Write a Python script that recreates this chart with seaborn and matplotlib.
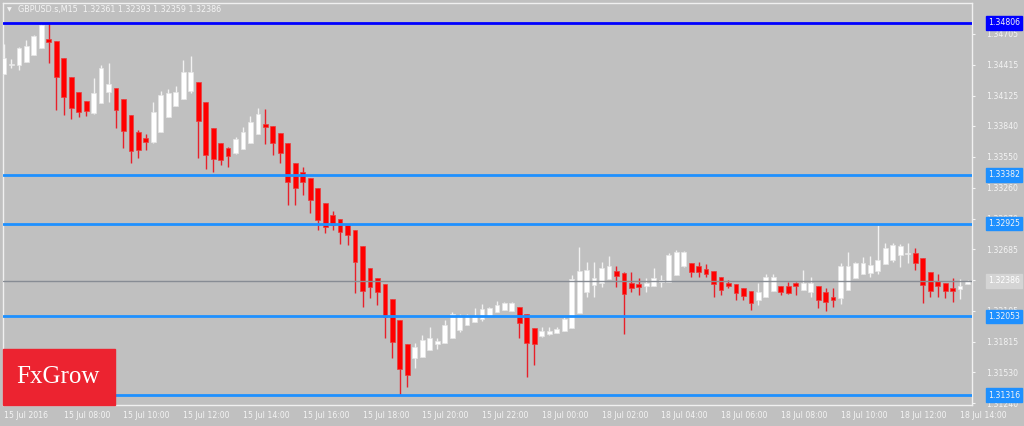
import matplotlib
matplotlib.use("Agg")
import matplotlib.pyplot as plt
import pandas as pd
import seaborn as sns

# GBPUSD M15 candles, 15 Jul 06:00 -> 18 Jul 14:15
symbol = "GBPUSD.s,M15"
header_ohlc = ["1.32361", "1.32393", "1.32359", "1.32386"]

opens = [1.34328, 1.34412, 1.34412, 1.34440, 1.34506, 1.34571, 1.34656, 1.34637, 1.34478, 1.34300,
         1.34159, 1.34075, 1.33962, 1.34056, 1.34159, 1.34196, 1.34093, 1.33943, 1.33784, 1.33727,
         1.33690, 1.33784, 1.33924, 1.34027, 1.34093, 1.34168, 1.34253, 1.34065, 1.33821, 1.33681,
         1.33634, 1.33587, 1.33624, 1.33681, 1.33765, 1.33859, 1.33840, 1.33774, 1.33681, 1.33493,
         1.33408, 1.33352, 1.33258, 1.33118, 1.33005, 1.32967, 1.32911, 1.32864, 1.32714, 1.32508,
         1.32414, 1.32358, 1.32217, 1.32020, 1.31795, 1.31664, 1.31673, 1.31739, 1.31795, 1.31805,
         1.31851, 1.31926, 1.31973, 1.32001, 1.32030, 1.32058, 1.32095, 1.32114, 1.32105, 1.32142,
         1.32077, 1.31945, 1.31870, 1.31889, 1.31898, 1.31917, 1.31945, 1.32086, 1.32283, 1.32348,
         1.32367, 1.32405, 1.32480, 1.32461, 1.32367, 1.32358, 1.32339, 1.32339, 1.32377, 1.32377,
         1.32442, 1.32527, 1.32555, 1.32527, 1.32499, 1.32480, 1.32424, 1.32367, 1.32358, 1.32320,
         1.32292, 1.32208, 1.32236, 1.32292, 1.32339, 1.32339, 1.32367, 1.32302, 1.32283, 1.32339,
         1.32283, 1.32236, 1.32227, 1.32302, 1.32414, 1.32452, 1.32461, 1.32480, 1.32545, 1.32583,
         1.32630, 1.32639, 1.32648, 1.32601, 1.32470, 1.32386, 1.32367, 1.32320, 1.32311, 1.32361]
highs = [1.34609, 1.34468, 1.34581, 1.34646, 1.34693, 1.34806, 1.34806, 1.34637, 1.34478, 1.34300,
         1.34159, 1.34075, 1.34290, 1.34412, 1.34431, 1.34196, 1.34093, 1.33943, 1.33802, 1.33765,
         1.34065, 1.34168, 1.34187, 1.34215, 1.34459, 1.34496, 1.34253, 1.34065, 1.33821, 1.33681,
         1.33643, 1.33737, 1.33830, 1.33934, 1.34009, 1.33999, 1.33840, 1.33774, 1.33681, 1.33493,
         1.33455, 1.33352, 1.33258, 1.33118, 1.33042, 1.32967, 1.32911, 1.32864, 1.32714, 1.32508,
         1.32414, 1.32358, 1.32217, 1.32020, 1.31795, 1.31805, 1.31880, 1.31954, 1.31851, 1.32020,
         1.32095, 1.32077, 1.32077, 1.32132, 1.32170, 1.32142, 1.32198, 1.32189, 1.32189, 1.32142,
         1.32077, 1.31945, 1.31954, 1.31954, 1.31954, 1.32048, 1.32442, 1.32705, 1.32564, 1.32564,
         1.32564, 1.32620, 1.32527, 1.32470, 1.32470, 1.32414, 1.32414, 1.32508, 1.32442, 1.32648,
         1.32676, 1.32667, 1.32555, 1.32564, 1.32545, 1.32480, 1.32424, 1.32395, 1.32358, 1.32320,
         1.32292, 1.32367, 1.32452, 1.32452, 1.32339, 1.32377, 1.32377, 1.32489, 1.32424, 1.32339,
         1.32320, 1.32320, 1.32555, 1.32658, 1.32564, 1.32611, 1.32620, 1.32911, 1.32742, 1.32742,
         1.32733, 1.32742, 1.32695, 1.32601, 1.32470, 1.32452, 1.32367, 1.32414, 1.32405, 1.32393]
lows = [1.34328, 1.34384, 1.34365, 1.34440, 1.34506, 1.34571, 1.34431, 1.33990, 1.33943, 1.33906,
        1.33924, 1.33934, 1.33953, 1.34056, 1.34065, 1.33821, 1.33634, 1.33493, 1.33540, 1.33615,
        1.33681, 1.33784, 1.33924, 1.34027, 1.34093, 1.34149, 1.33540, 1.33436, 1.33408, 1.33474,
        1.33455, 1.33577, 1.33624, 1.33681, 1.33765, 1.33671, 1.33568, 1.33493, 1.33099, 1.33099,
        1.33193, 1.33024, 1.32864, 1.32836, 1.32864, 1.32733, 1.32723, 1.32273, 1.32142, 1.32227,
        1.32161, 1.31851, 1.31664, 1.31316, 1.31392, 1.31570, 1.31673, 1.31739, 1.31748, 1.31805,
        1.31851, 1.31908, 1.31973, 1.32001, 1.32011, 1.32058, 1.32095, 1.32114, 1.32105, 1.31851,
        1.31486, 1.31598, 1.31861, 1.31880, 1.31898, 1.31917, 1.31945, 1.32086, 1.32236, 1.32236,
        1.32330, 1.32405, 1.32330, 1.31889, 1.32283, 1.32255, 1.32283, 1.32339, 1.32330, 1.32377,
        1.32442, 1.32517, 1.32424, 1.32424, 1.32424, 1.32236, 1.32255, 1.32320, 1.32208, 1.32208,
        1.32114, 1.32161, 1.32236, 1.32292, 1.32255, 1.32264, 1.32255, 1.32302, 1.32236, 1.32132,
        1.32105, 1.32142, 1.32170, 1.32302, 1.32414, 1.32452, 1.32424, 1.32452, 1.32545, 1.32564,
        1.32517, 1.32555, 1.32489, 1.32180, 1.32236, 1.32236, 1.32227, 1.32189, 1.32217, 1.32359]
closes = [1.34478, 1.34421, 1.34571, 1.34590, 1.34684, 1.34787, 1.34628, 1.34300, 1.34112, 1.34009,
          1.33971, 1.33981, 1.34149, 1.34384, 1.34234, 1.33990, 1.33793, 1.33605, 1.33615, 1.33690,
          1.33971, 1.34131, 1.34149, 1.34159, 1.34346, 1.34346, 1.33887, 1.33568, 1.33530, 1.33521,
          1.33558, 1.33718, 1.33784, 1.33878, 1.33953, 1.33830, 1.33681, 1.33587, 1.33315, 1.33258,
          1.33315, 1.33146, 1.32958, 1.32892, 1.32911, 1.32845, 1.32817, 1.32564, 1.32292, 1.32330,
          1.32283, 1.32048, 1.31814, 1.31561, 1.31505, 1.31767, 1.31833, 1.31851, 1.31823, 1.31973,
          1.32077, 1.32058, 1.32067, 1.32058, 1.32123, 1.32132, 1.32161, 1.32180, 1.32180, 1.31992,
          1.31805, 1.31795, 1.31917, 1.31917, 1.31936, 1.32030, 1.32405, 1.32480, 1.32489, 1.32414,
          1.32508, 1.32527, 1.32433, 1.32264, 1.32320, 1.32330, 1.32367, 1.32414, 1.32395, 1.32630,
          1.32658, 1.32658, 1.32470, 1.32470, 1.32452, 1.32358, 1.32302, 1.32339, 1.32273, 1.32245,
          1.32180, 1.32283, 1.32424, 1.32424, 1.32283, 1.32273, 1.32339, 1.32367, 1.32367, 1.32208,
          1.32189, 1.32208, 1.32527, 1.32527, 1.32555, 1.32555, 1.32536, 1.32583, 1.32695, 1.32723,
          1.32714, 1.32648, 1.32555, 1.32348, 1.32292, 1.32339, 1.32292, 1.32292, 1.32339, 1.32386]

time_labels = ["15 Jul 2016", "15 Jul 08:00", "15 Jul 10:00", "15 Jul 12:00", "15 Jul 14:00",
               "15 Jul 16:00", "15 Jul 18:00", "15 Jul 20:00", "15 Jul 22:00", "18 Jul 00:00",
               "18 Jul 02:00", "18 Jul 04:00", "18 Jul 06:00", "18 Jul 08:00", "18 Jul 10:00",
               "18 Jul 12:00", "18 Jul 14:00"]
# 1.32395 sits fully under the bid tag, so only its tick mark is drawn
price_ticks = [1.34705, 1.34415, 1.34125, 1.33840, 1.33550, 1.33260, 1.32970, 1.32685,
               1.32395, 1.32105, 1.31815, 1.31530, 1.31240]
hidden_ticks = [1.32395]
levels = [1.34806, 1.33382, 1.32925, 1.32053, 1.31316]
level_colors = ["#0000ff", "#1e90ff", "#1e90ff", "#1e90ff", "#1e90ff"]
bid = 1.32386

BG = "#c0c0c0"
TXT = "#f4f4f4"

sns.set_theme(style="white", rc={"axes.facecolor": BG, "figure.facecolor": BG})
plt.rcParams["font.family"] = ["DejaVu Sans"]

df = pd.DataFrame({"open": opens, "high": highs, "low": lows, "close": closes})
df["bar"] = range(len(df))
df["up"] = df["close"] >= df["open"]
df["bottom"] = df[["open", "close"]].min(axis=1)
df["size"] = (df["close"] - df["open"]).abs().clip(lower=0.00003)

fig = plt.figure(figsize=(10.24, 4.26), dpi=100)
ax = fig.add_axes([3 / 1024, 21 / 426, 969 / 1024, 402 / 426])

# wicks
wick_col = ["#f2f2f2" if u else "#e8202a" for u in df["up"]]
ax.vlines(df["bar"], df["low"], df["high"], colors=wick_col, linewidth=1.0, zorder=2)
# bodies
body_col = ["#ffffff" if u else "#ff0000" for u in df["up"]]
edge_col = ["#e6e6e6" if u else "#e84040" for u in df["up"]]
ax.bar(df["bar"], df["size"], bottom=df["bottom"], width=0.64, color=body_col,
       edgecolor=edge_col, linewidth=0.5, zorder=3)

# horizontal levels + tags
tag_x = 1.0165
for lv, c in zip(levels, level_colors):
    ax.axhline(lv, color=c, linewidth=2.0, zorder=4)
    ax.text(tag_x, lv, f"{lv:.5f}", transform=ax.get_yaxis_transform(), color=TXT,
            fontsize=5.6, va="center", ha="left", clip_on=False, zorder=6,
            bbox=dict(boxstyle="square,pad=0.3", fc=c, ec=c))
ax.axhline(bid, color="#878c94", linewidth=1.0, zorder=4)
ax.text(tag_x, bid, f"{bid:.5f}", transform=ax.get_yaxis_transform(), color="#ffffff",
        fontsize=5.6, va="center", ha="left", clip_on=False, zorder=6,
        bbox=dict(boxstyle="square,pad=0.3", fc="#d4d4d4", ec="#d4d4d4"))

ax.set_xlim(-0.13, 129.6)
ax.set_ylim(1.312228, 1.349936)

ax.yaxis.tick_right()
ax.set_yticks(price_ticks)
ax.set_yticklabels(["" if p in hidden_ticks else f"{p:.5f}" for p in price_ticks])
ax.set_xticks(range(0, 8 * len(time_labels), 8))
ax.set_xticklabels(time_labels, ha="left")
ax.tick_params(axis="both", colors=TXT, labelcolor=TXT, labelsize=5.6, length=2.5,
               width=0.8, direction="out", pad=2)
ax.tick_params(axis="y", pad=8)
for s in ax.spines.values():
    s.set_color("#f0f0f0")
    s.set_linewidth(1.0)

ax.text(0.004, 0.983, "\u25bc", transform=ax.transAxes, color=TXT, fontsize=4.5,
        va="center", ha="left")
ax.text(0.015, 0.983, symbol + "  " + " ".join(header_ohlc), transform=ax.transAxes,
        color=TXT, fontsize=5.8, va="center", ha="left")

# logo box
fig.patches.append(plt.Rectangle((3 / 1024, 21 / 426), 112 / 1024, 56 / 426,
                                 transform=fig.transFigure, color="#ec2330", zorder=10))
fig.text(58 / 1024, 49 / 426, "FxGrow", color="white", fontsize=18,
         family=["Liberation Serif", "DejaVu Serif"], ha="center", va="center", zorder=11)

fig.savefig("out.png", dpi=100, facecolor=BG)
